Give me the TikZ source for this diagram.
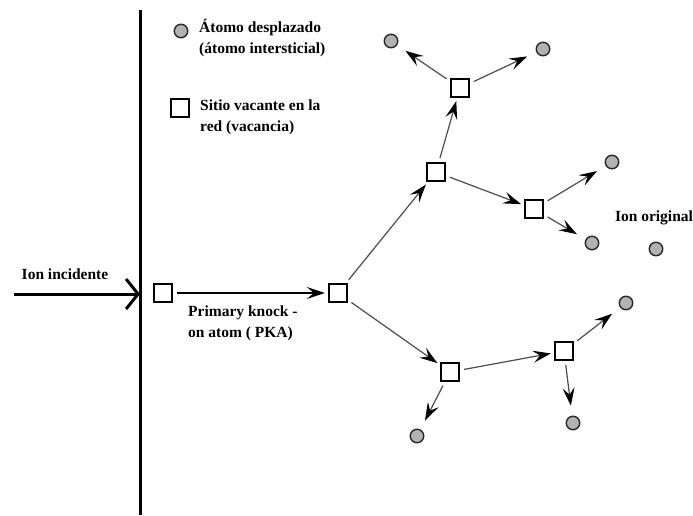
\documentclass[tikz,border=0pt]{standalone}
\usepackage{fontspec}
\setmainfont{Liberation Serif}
\usetikzlibrary{arrows.meta}
\begin{document}
\begin{tikzpicture}[x=1pt,y=-1pt,
  vac/.style={draw=black,fill=white,line width=1.8pt,minimum size=18.5pt,inner sep=0pt},
  atom/.style={circle,draw=black!85,fill=black!30,line width=1.4pt,minimum size=13.5pt,inner sep=0pt},
  lbl/.style={font=\bfseries\fontsize{15.5}{21}\selectfont,align=left,inner sep=0pt},
  cascade/.style={draw=black!70,line width=1.2pt,-{Stealth[length=18pt,width=12pt,inset=7pt,color=black,fill=black]},shorten <=4pt,shorten >=3pt},
  kick/.style={cascade,shorten >=10pt}]
\useasboundingbox (0,0) rectangle (693,515);
% target surface
\coordinate (wallTop) at (140,10);
\coordinate (wallBot) at (140,515);
\draw[line width=3pt] (wallTop) -- (wallBot);
% incident ion
\coordinate (ionStart) at (14,294);
\coordinate (hit) at (140,294);
\draw[line width=3pt,-{Straight Barb[length=12pt,width=30pt]}] (ionStart) -- (hit);
\node[lbl] (incLbl) at (65,274) {Ion incidente};
% legend
\node[atom] (legAtom) at (181,31) {};
\node[lbl,anchor=west] (legAtomTxt) at (199,38) {Átomo desplazado\\(átomo intersticial)};
\node[vac] (legVac) at (180,108) {};
\node[lbl,anchor=west] (legVacTxt) at (200,117) {Sitio vacante en la\\red (vacancia)};
% vacancies
\node[vac] (s1) at (163,293) {};
\node[vac] (s2) at (338,293) {};
\node[vac] (b) at (436,172) {};
\node[vac] (c) at (460,88) {};
\node[vac] (d) at (534,209) {};
\node[vac] (e) at (450,372) {};
\node[vac] (f) at (564,351) {};
% displaced atoms
\node[atom] (a1) at (391,41) {};
\node[atom] (a2) at (543,49) {};
\node[atom] (a3) at (612,162) {};
\node[atom] (a4) at (592,243) {};
\node[atom] (a5) at (626,303) {};
\node[atom] (a6) at (573,423) {};
\node[atom] (a7) at (417,436) {};
\node[atom] (orig) at (656,249) {};
\node[lbl] (origLbl) at (654,218) {Ion original};
% PKA
\draw[cascade,line width=1.4pt,draw=black] (s1) -- (s2);
\node[lbl,anchor=north west] (pkaLbl) at (188,306) {Primary knock -\\on atom ( PKA)};
% cascade
\draw[cascade] (s2) -- (b);
\draw[cascade] (s2) -- (e);
\draw[cascade] (b) -- (c);
\draw[cascade] (b) -- (d);
\draw[cascade] (e) -- (f);
\draw[kick] (c) -- (a1);
\draw[kick] (c) -- (a2);
\draw[kick] (d) -- (a3);
\draw[kick] (d) -- (a4);
\draw[kick] (f) -- (a5);
\draw[kick] (f) -- (a6);
\draw[kick] (e) -- (a7);
\end{tikzpicture}
\end{document}
